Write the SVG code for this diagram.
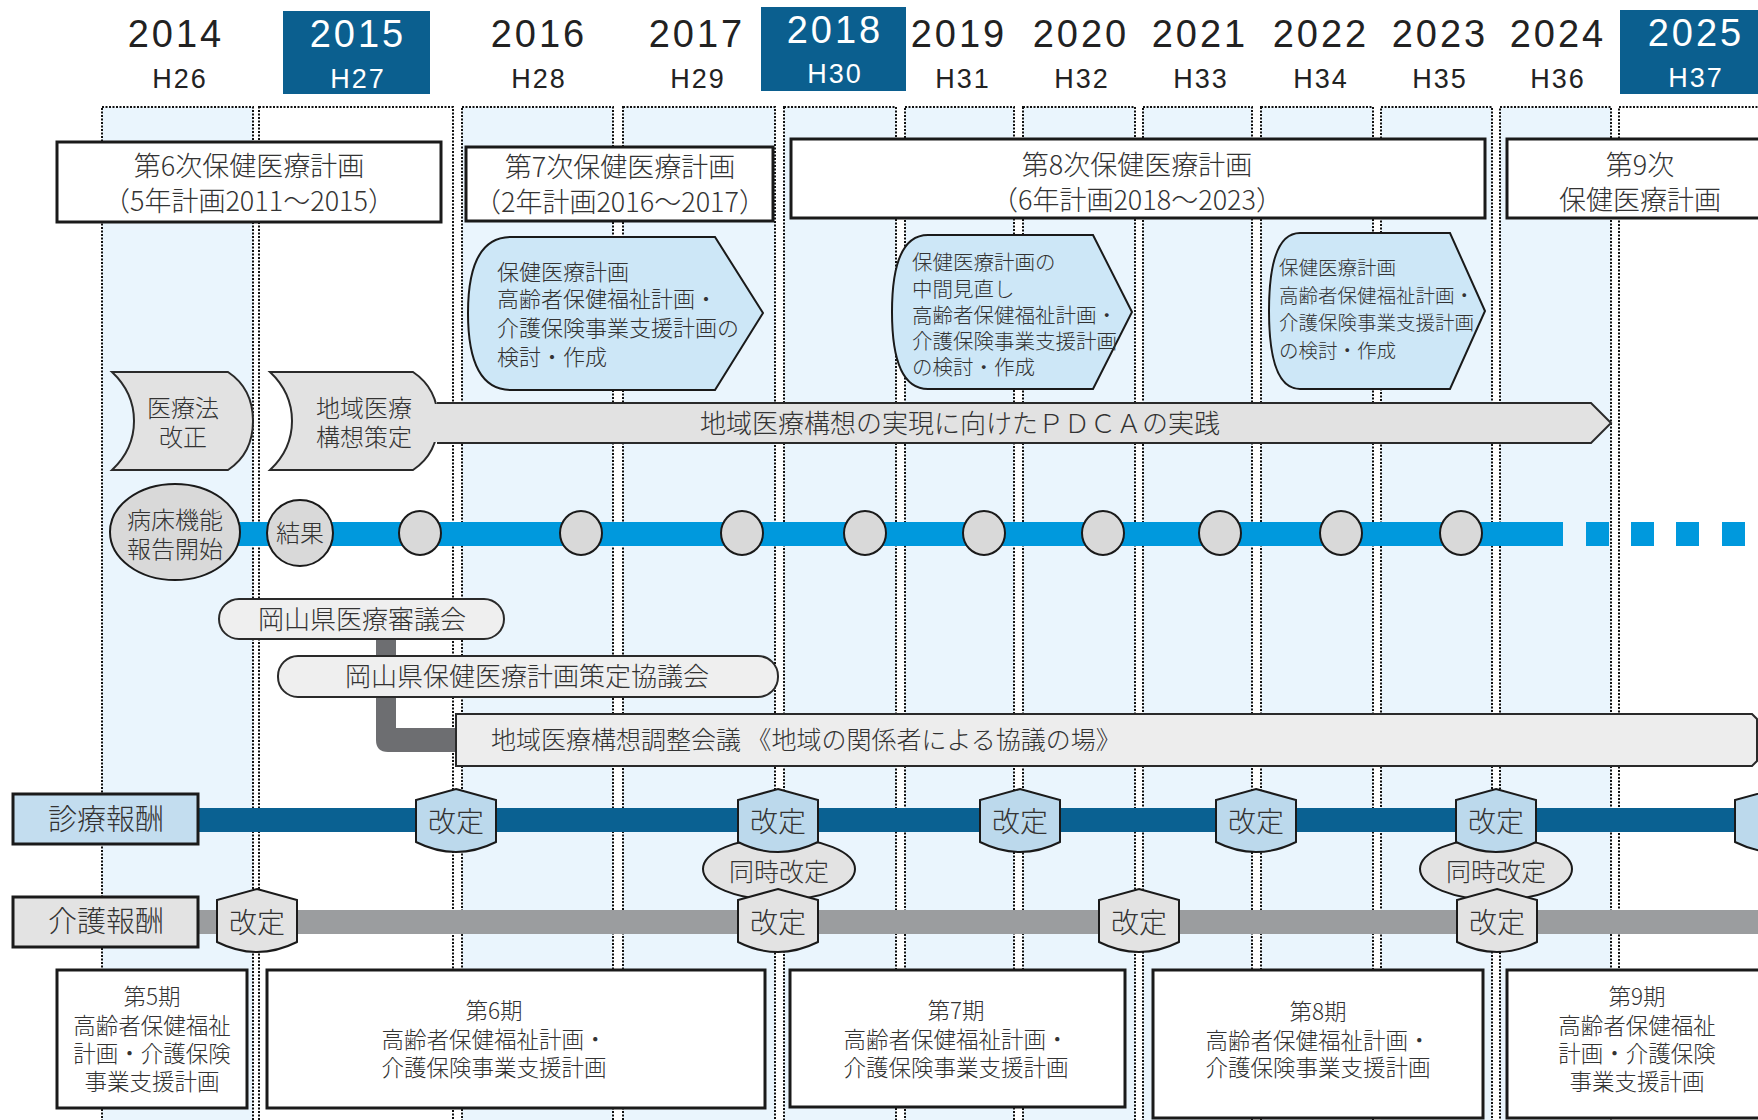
<svg xmlns="http://www.w3.org/2000/svg" width="1758" height="1120" viewBox="0 0 1758 1120">
<defs>
<style>
.col{stroke:#111;stroke-width:2;stroke-dasharray:2 1.5}
.cb{fill:#eaf5fd}
.cw{fill:#fff}
.yr{font-family:"Liberation Sans",Arial,sans-serif;font-size:38px;letter-spacing:3px;text-anchor:middle;fill:#222}
.hy{font-family:"Liberation Sans",Arial,sans-serif;font-size:27px;letter-spacing:2px;text-anchor:middle;fill:#222}
.wt{fill:#fff}
.t{font-family:"Noto Sans CJK JP","Noto Sans",sans-serif;font-weight:300;fill:#333}
.c{text-anchor:middle}
.box{fill:#fff;stroke:#1a1a1a;stroke-width:3}
.proc{fill:#cde7f7;stroke:#1a1a1a;stroke-width:2}
.gray{fill:#e2e2e2;stroke:#2a2a2a;stroke-width:2}
.circ{fill:#d9d9d9;stroke:#1a1a1a;stroke-width:2}
.pill{fill:#efefef;stroke:#2a2a2a;stroke-width:2}
.bb{fill:#bcd9ec;stroke:#1a1a1a;stroke-width:2}
.bg{fill:#e3e3e3;stroke:#1a1a1a;stroke-width:2}
.hdr{fill:#0b5f8f}
</style>
<path id="badge" d="M0,0 L40,11 V53 Q0,73 -40,53 V11 Z"/>
</defs>
<rect x="0" y="0" width="1758" height="1120" fill="#fff"/>

<g id="columns">
<rect class="col cb" x="102" y="107" width="151" height="1030"/>
<rect class="col cw" x="259" y="107" width="194" height="1030"/>
<rect class="col cb" x="462" y="107" width="151" height="1030"/>
<rect class="col cb" x="623" y="107" width="152" height="1030"/>
<rect class="col cb" x="784" y="107" width="112" height="1030"/>
<rect class="col cb" x="905" y="107" width="109" height="1030"/>
<rect class="col cb" x="1023" y="107" width="112" height="1030"/>
<rect class="col cb" x="1143" y="107" width="109" height="1030"/>
<rect class="col cb" x="1261" y="107" width="112" height="1030"/>
<rect class="col cb" x="1381" y="107" width="111" height="1030"/>
<rect class="col cb" x="1500" y="107" width="111" height="1030"/>
<rect class="col cw" x="1619" y="107" width="160" height="1030"/>
</g>

<g id="header">
<rect class="hdr" x="283" y="11" width="147" height="83"/>
<rect class="hdr" x="761" y="7" width="145" height="84"/>
<rect class="hdr" x="1620" y="10" width="140" height="84"/>
<text class="yr" x="176" y="47">2014</text>
<text class="hy" x="180" y="88">H26</text>
<text class="yr wt" x="358" y="47">2015</text>
<text class="hy wt" x="358" y="88">H27</text>
<text class="yr" x="539" y="47">2016</text>
<text class="hy" x="539" y="88">H28</text>
<text class="yr" x="697" y="47">2017</text>
<text class="hy" x="698" y="88">H29</text>
<text class="yr wt" x="835" y="43">2018</text>
<text class="hy wt" x="835" y="83">H30</text>
<text class="yr" x="959" y="47">2019</text>
<text class="hy" x="963" y="88">H31</text>
<text class="yr" x="1081" y="47">2020</text>
<text class="hy" x="1082" y="88">H32</text>
<text class="yr" x="1200" y="47">2021</text>
<text class="hy" x="1201" y="88">H33</text>
<text class="yr" x="1321" y="47">2022</text>
<text class="hy" x="1321" y="88">H34</text>
<text class="yr" x="1440" y="47">2023</text>
<text class="hy" x="1440" y="88">H35</text>
<text class="yr" x="1558" y="47">2024</text>
<text class="hy" x="1558" y="88">H36</text>
<text class="yr wt" x="1696" y="46">2025</text>
<text class="hy wt" x="1696" y="87">H37</text>
</g>

<g id="connectors">
<path id="conn-council" d="M376,639 V740 Q376,752 388,752 H460 V728 H396 V639 Z" fill="#6d6e71"/>
<g id="bed-line" fill="#0099dd">
<rect x="236" y="522" width="1327" height="24"/>
<rect x="1586" y="522" width="23" height="24"/>
<rect x="1631" y="522" width="23" height="24"/>
<rect x="1676" y="522" width="23" height="24"/>
<rect x="1722" y="522" width="23" height="24"/>
</g>
<rect id="shinryo-line" x="198" y="808" width="1560" height="24" fill="#0a6192"/>
<rect id="kaigo-line" x="198" y="910" width="1560" height="24" fill="#9b9d9f"/>
</g>

<g id="plan6">
<rect class="box" x="57" y="142" width="384" height="80"/>
<text class="t c" x="249" y="176" font-size="27">第6次保健医療計画</text>
<text class="t c" x="249" y="211" font-size="27">（5年計画2011～2015）</text>
</g>
<g id="plan7">
<rect class="box" x="466" y="147" width="307" height="74"/>
<text class="t c" x="620" y="177" font-size="27">第7次保健医療計画</text>
<text class="t c" x="620" y="212" font-size="27">（2年計画2016～2017）</text>
</g>
<g id="plan8">
<rect class="box" x="791" y="139" width="694" height="79"/>
<text class="t c" x="1137" y="175" font-size="27">第8次保健医療計画</text>
<text class="t c" x="1137" y="210" font-size="27">（6年計画2018～2023）</text>
</g>
<g id="plan9">
<rect class="box" x="1507" y="139" width="270" height="79"/>
<text class="t c" x="1640" y="175" font-size="27">第9次</text>
<text class="t c" x="1640" y="210" font-size="27">保健医療計画</text>
</g>

<g id="proc1">
<path class="proc" d="M511,237 H715 L763,313 L715,390 H511 Q468,390 468,313 Q468,237 511,237 Z"/>
<text class="t" x="497" y="280" font-size="22">保健医療計画</text>
<text class="t" x="497" y="307" font-size="22">高齢者保健福祉計画・</text>
<text class="t" x="497" y="336" font-size="22">介護保険事業支援計画の</text>
<text class="t" x="497" y="365" font-size="22">検討・作成</text>
</g>
<g id="proc2">
<path class="proc" d="M928,235 H1093 L1132,312 L1093,389 H928 Q892,389 892,312 Q892,235 928,235 Z"/>
<text class="t" x="912" y="270" font-size="20.5">保健医療計画の</text>
<text class="t" x="912" y="297" font-size="20.5">中間見直し</text>
<text class="t" x="912" y="323" font-size="20.5">高齢者保健福祉計画・</text>
<text class="t" x="912" y="349" font-size="20.5">介護保険事業支援計画</text>
<text class="t" x="912" y="375" font-size="20.5">の検討・作成</text>
</g>
<g id="proc3">
<path class="proc" d="M1300,233 H1450 L1485,311 L1450,389 H1300 Q1269,389 1269,311 Q1269,233 1300,233 Z"/>
<text class="t" x="1279" y="275" font-size="19.5">保健医療計画</text>
<text class="t" x="1279" y="303" font-size="19.5">高齢者保健福祉計画・</text>
<text class="t" x="1279" y="330" font-size="19.5">介護保険事業支援計画</text>
<text class="t" x="1279" y="358" font-size="19.5">の検討・作成</text>
</g>

<g id="law-revision">
<path class="gray" d="M112,372 H228 C246,384 253,402 253,421 C253,440 246,458 228,470 H112 C128,455 134,438 134,421 C134,404 128,387 112,372 Z"/>
<text class="t c" x="183" y="417" font-size="24">医療法</text>
<text class="t c" x="183" y="446" font-size="24">改正</text>
</g>
<g id="vision-plan">
<path class="gray" d="M270,372 H413 C431,384 438,402 438,421 C438,440 431,458 413,470 H270 C286,455 292,438 292,421 C292,404 286,387 270,372 Z"/>
<text class="t c" x="364" y="417" font-size="24">地域医療</text>
<text class="t c" x="364" y="446" font-size="24">構想策定</text>
</g>
<g id="pdca-arrow">
<path d="M420,404 H1591 L1610,423 L1591,442 H420 Z" fill="#e2e2e2"/>
<path d="M437,403 H1591 L1611,423 L1591,443 H437" fill="none" stroke="#2a2a2a" stroke-width="2"/>
<text class="t c" x="960" y="433" font-size="26">地域医療構想の実現に向けたＰＤＣＡの実践</text>
</g>

<g id="bed-start">
<ellipse class="circ" cx="175" cy="532" rx="65" ry="48"/>
<text class="t c" x="175" y="529" font-size="24">病床機能</text>
<text class="t c" x="175" y="558" font-size="24">報告開始</text>
</g>
<g id="bed-result">
<ellipse class="circ" cx="300" cy="533" rx="33" ry="33"/>
<text class="t c" x="300" y="542" font-size="24">結果</text>
</g>
<g id="bed-points">
<ellipse class="circ" cx="420" cy="533" rx="21" ry="22"/>
<ellipse class="circ" cx="581" cy="533" rx="21" ry="22"/>
<ellipse class="circ" cx="742" cy="533" rx="21" ry="22"/>
<ellipse class="circ" cx="865" cy="533" rx="21" ry="22"/>
<ellipse class="circ" cx="984" cy="533" rx="21" ry="22"/>
<ellipse class="circ" cx="1103" cy="533" rx="21" ry="22"/>
<ellipse class="circ" cx="1220" cy="533" rx="21" ry="22"/>
<ellipse class="circ" cx="1341" cy="533" rx="21" ry="22"/>
<ellipse class="circ" cx="1461" cy="533" rx="21" ry="22"/>
</g>

<g id="council">
<rect class="pill" x="219" y="599" width="285" height="40" rx="20"/>
<text class="t c" x="362" y="629" font-size="26">岡山県医療審議会</text>
</g>
<g id="plan-council">
<rect class="pill" x="278" y="656" width="500" height="41" rx="20"/>
<text class="t c" x="527" y="686" font-size="26">岡山県保健医療計画策定協議会</text>
</g>
<g id="regional-meeting">
<path d="M456,714 H1752 L1757,719 V761 L1752,766 H456 Z" fill="#ededed" stroke="#2a2a2a" stroke-width="2"/>
<text class="t" x="491" y="749" font-size="25">地域医療構想調整会議 《地域の関係者による協議の場》</text>
</g>

<g id="shinryo-label">
<rect x="13" y="794" width="185" height="50" fill="#c3ddef" stroke="#1a1a1a" stroke-width="3"/>
<text class="t c" x="106" y="830" font-size="29">診療報酬</text>
</g>
<g id="kaigo-label">
<rect x="13" y="897" width="185" height="50" fill="#e3e3e3" stroke="#1a1a1a" stroke-width="3"/>
<text class="t c" x="106" y="932" font-size="29">介護報酬</text>
</g>

<g id="simul-2018">
<ellipse class="bg" cx="779" cy="869" rx="76" ry="31"/>
<text class="t c" x="779" y="881" font-size="25">同時改定</text>
</g>
<g id="simul-2024">
<ellipse class="bg" cx="1496" cy="869" rx="76" ry="31"/>
<text class="t c" x="1496" y="881" font-size="25">同時改定</text>
</g>

<g id="shinryo-revisions">
<use href="#badge" class="bb" x="456" y="789"/>
<text class="t c" x="456" y="832" font-size="28">改定</text>
<use href="#badge" class="bb" x="778" y="789"/>
<text class="t c" x="778" y="832" font-size="28">改定</text>
<use href="#badge" class="bb" x="1020" y="789"/>
<text class="t c" x="1020" y="832" font-size="28">改定</text>
<use href="#badge" class="bb" x="1256" y="789"/>
<text class="t c" x="1256" y="832" font-size="28">改定</text>
<use href="#badge" class="bb" x="1496" y="789"/>
<text class="t c" x="1496" y="832" font-size="28">改定</text>
<use href="#badge" class="bb" x="1775" y="789"/>
</g>
<g id="kaigo-revisions">
<use href="#badge" class="bg" x="257" y="889"/>
<text class="t c" x="257" y="933" font-size="28">改定</text>
<use href="#badge" class="bg" x="778" y="889"/>
<text class="t c" x="778" y="933" font-size="28">改定</text>
<use href="#badge" class="bg" x="1139" y="889"/>
<text class="t c" x="1139" y="933" font-size="28">改定</text>
<use href="#badge" class="bg" x="1497" y="889"/>
<text class="t c" x="1497" y="933" font-size="28">改定</text>
</g>

<g id="period5">
<rect class="box" x="57" y="970" width="190" height="138"/>
<text class="t c" x="152" y="1005" font-size="22.5">第5期</text>
<text class="t c" x="152" y="1034" font-size="22.5">高齢者保健福祉</text>
<text class="t c" x="152" y="1062" font-size="22.5">計画・介護保険</text>
<text class="t c" x="152" y="1090" font-size="22.5">事業支援計画</text>
</g>
<g id="period6">
<rect class="box" x="267" y="970" width="498" height="138"/>
<text class="t c" x="494" y="1019" font-size="22.5">第6期</text>
<text class="t c" x="494" y="1048" font-size="22.5">高齢者保健福祉計画・</text>
<text class="t c" x="494" y="1076" font-size="22.5">介護保険事業支援計画</text>
</g>
<g id="period7">
<rect class="box" x="790" y="970" width="335" height="137"/>
<text class="t c" x="956" y="1019" font-size="22.5">第7期</text>
<text class="t c" x="956" y="1048" font-size="22.5">高齢者保健福祉計画・</text>
<text class="t c" x="956" y="1076" font-size="22.5">介護保険事業支援計画</text>
</g>
<g id="period8">
<rect class="box" x="1153" y="970" width="330" height="148"/>
<text class="t c" x="1318" y="1020" font-size="22.5">第8期</text>
<text class="t c" x="1318" y="1049" font-size="22.5">高齢者保健福祉計画・</text>
<text class="t c" x="1318" y="1076" font-size="22.5">介護保険事業支援計画</text>
</g>
<g id="period9">
<rect class="box" x="1507" y="970" width="270" height="148"/>
<text class="t c" x="1637" y="1005" font-size="22.5">第9期</text>
<text class="t c" x="1637" y="1034" font-size="22.5">高齢者保健福祉</text>
<text class="t c" x="1637" y="1062" font-size="22.5">計画・介護保険</text>
<text class="t c" x="1637" y="1090" font-size="22.5">事業支援計画</text>
</g>
</svg>
